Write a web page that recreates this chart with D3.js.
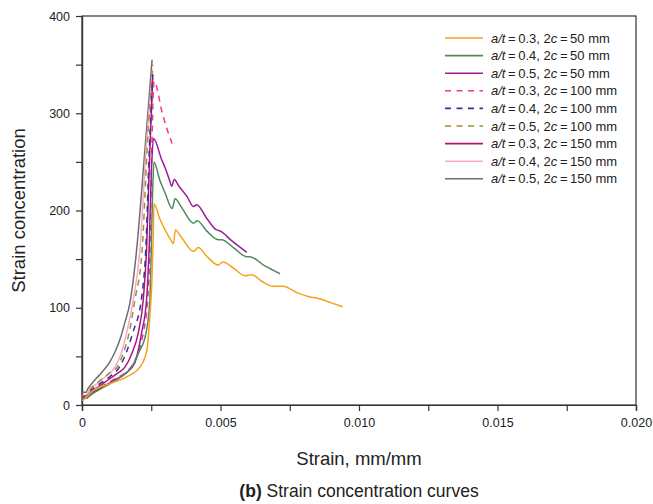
<!DOCTYPE html>
<html>
<head>
<meta charset="utf-8">
<script src="https://cdn.jsdelivr.net/npm/d3@7"></script>
<style>
  body { margin: 0; background: #fff; }
  text { font-family: "Liberation Sans", Arial, sans-serif; fill: #222; }
</style>
</head>
<body>
<div id="drawing"></div>
<script>
const width = 653;
const height = 504;
const margin = {top: 16, right: 17, bottom: 99, left: 82};
const plotW = width - margin.left - margin.right;
const plotH = height - margin.top - margin.bottom;

// strain is in units of 1e-3 (mm/mm x 1000), second value is strain concentration
const xTicks = [0, 0.005, 0.010, 0.015, 0.020];
const xTickLabels = ["0", "0.005", "0.010", "0.015", "0.020"];
const yTicks = [0, 100, 200, 300, 400];

const at03_50 = [[0,5],[0.05,5],[0.15,8],[0.41,15],[1.01,22],[1.61,29],[2.09,39],[2.34,56],[2.45,91],[2.52,125],[2.57,170],[2.6,207],[2.8,192],[3.0,180],[3.2,170],[3.3,166],[3.37,180],[3.6,172],[4.02,158],[4.2,162],[4.5,153],[4.92,144],[5.08,147],[5.5,140],[5.88,133],[6.13,134],[6.5,127],[6.9,122],[7.25,122],[7.8,115],[8.23,111],[8.47,110],[9.0,105],[9.41,101]];
const at04_50 = [[0,7],[0.15,7],[0.3,10],[0.7,17],[1.2,25],[1.5,31],[1.79,39],[2.05,54],[2.31,74],[2.45,108],[2.5,159],[2.55,220],[2.6,250],[2.8,232],[3.0,218],[3.26,202],[3.36,212],[3.6,203],[4.02,187],[4.16,189.5],[4.5,179],[4.92,170],[5.04,170],[5.5,161],[5.95,152.5],[6.06,152.5],[6.6,143],[7.15,135]];
const at05_50 = [[0,7],[0.15,7],[0.3,11],[0.7,18],[1.2,26],[1.6,33],[1.9,43],[2.15,74],[2.33,108],[2.42,159],[2.52,250],[2.58,274],[2.88,252],[3.0,244],[3.15,232],[3.24,225],[3.33,232],[3.5,225],[3.8,214],[4.02,204],[4.14,206],[4.5,192],[4.86,180],[4.98,179],[5.4,169],[5.95,157]];
const at03_100 = [[0,8],[0.15,8],[0.3,12],[0.7,19],[1.2,27],[1.6,34],[1.9,45],[2.1,60],[2.21,74],[2.37,108],[2.45,159],[2.52,262],[2.6,333],[2.9,300],[3.1,281],[3.25,269]];
const at04_100 = [[0,8],[0.15,8],[0.3,14],[0.6,21],[1.0,29],[1.35,39],[1.6,54],[1.83,74],[2.15,110],[2.3,159],[2.43,262],[2.56,340]];
const at05_100 = [[0,9],[0.15,9],[0.3,16],[0.6,24],[1.0,33],[1.27,39],[1.5,54],[1.7,74],[1.91,108],[2.17,159],[2.35,262],[2.55,350]];
const at03_150 = [[0,9],[0.15,9],[0.3,13],[0.6,19],[1.0,27],[1.3,33],[1.55,39],[1.8,53],[2.03,74],[2.21,108],[2.33,159],[2.45,262],[2.55,335]];
const at04_150 = [[0,10],[0.15,10],[0.25,15],[0.5,21],[0.8,28],[1.19,39],[1.4,52],[1.61,74],[1.85,108],[2.09,159],[2.31,262],[2.55,345]];
const at05_150 = [[0,13],[0.15,13],[0.2,16],[0.3,20],[0.5,27],[0.7,33],[1.0,44],[1.2,55],[1.4,70],[1.55,85],[1.73,105],[1.97,159],[2.27,262],[2.53,355]];

const ratios = ["0.3", "0.4", "0.5", "0.3", "0.4", "0.5", "0.3", "0.4", "0.5"];
const lengths = ["50", "50", "50", "100", "100", "100", "150", "150", "150"];
const colors = ["#f7a21e", "#4f8a5e", "#9b1c97", "#ec3a8c", "#2e32a6", "#a38f2d", "#b0166f", "#f6aacb", "#6e6e6e"];
const seriesValues = [at03_50, at04_50, at05_50, at03_100, at04_100, at05_100, at03_150, at04_150, at05_150];

const svg = d3.select("#drawing").append("svg")
  .attr("width", width)
  .attr("height", height);

const g = svg.append("g")
  .attr("transform", `translate(${margin.left},${margin.top})`);

const xScale = d3.scaleLinear().domain([0, 0.020]).range([0, plotW]);
const yScale = d3.scaleLinear().domain([0, 400]).range([plotH, 0]);

// frame
g.append("rect")
  .attr("width", plotW).attr("height", plotH)
  .attr("fill", "none").attr("stroke", "#333").attr("stroke-width", 1.2);

// minor ticks
const xMinor = d3.range(0.0025, 0.020, 0.005);
const yMinor = d3.range(50, 400, 100);

g.append("g")
  .attr("transform", `translate(0,${plotH})`)
  .call(d3.axisBottom(xScale).tickValues(xTicks).tickSize(6).tickPadding(7)
    .tickFormat((d, i) => xTickLabels[i]));
g.append("g")
  .attr("transform", `translate(0,${plotH})`)
  .call(d3.axisBottom(xScale).tickValues(xMinor).tickSize(6).tickFormat(""));

g.append("g")
  .call(d3.axisLeft(yScale).tickValues(yTicks).tickSize(6).tickPadding(6));
g.append("g")
  .call(d3.axisLeft(yScale).tickValues(yMinor).tickSize(6).tickFormat(""));

g.selectAll(".domain").attr("stroke", "#333").attr("stroke-width", 1.2);
g.selectAll(".tick line").attr("stroke", "#333").attr("stroke-width", 1.2);
g.selectAll(".tick text").style("font-size", "12.5px").attr("fill", "#222");

// curves
const line = d3.line()
  .x(d => xScale(d[0] / 1000))
  .y(d => yScale(d[1]))
  .curve(d3.curveMonotoneX);

const dashed = [false, false, false, true, true, true, false, false, false];
const drawOrder = [8, 7, 5, 6, 4, 3, 2, 1, 0];

g.selectAll(".curve")
  .data(drawOrder)
  .enter()
  .append("path")
    .attr("class", "curve")
    .attr("d", i => line(seriesValues[i]))
    .attr("fill", "none")
    .attr("stroke", i => colors[i])
    .attr("stroke-width", 1.5)
    .attr("stroke-dasharray", i => dashed[i] ? "6,5" : null);

// legend
const legend = g.append("g").attr("transform", "translate(363,22)");
const rowH = 17.6;
ratios.forEach((r, i) => {
  const row = legend.append("g").attr("transform", `translate(0,${i * rowH})`);
  row.append("line")
    .attr("x1", 0).attr("x2", 38).attr("y1", 0).attr("y2", 0)
    .attr("stroke", colors[i]).attr("stroke-width", 1.6)
    .attr("stroke-dasharray", dashed[i] ? "6,5.5" : null);
  const t = row.append("text").attr("x", 46).attr("y", 4.5).style("font-size", "13px");
  t.append("tspan").style("font-style", "italic").text("a/t");
  t.append("tspan").text("\u2009=\u20090.3".replace("0.3", r) + ", 2");
  t.append("tspan").style("font-style", "italic").text("c");
  t.append("tspan").text("\u2009=\u2009" + lengths[i] + " mm");
});

// axis titles
svg.append("text")
  .attr("transform", `translate(25,${margin.top + plotH / 2}) rotate(-90)`)
  .attr("text-anchor", "middle")
  .style("font-size", "18.5px")
  .text("Strain concentration");

svg.append("text")
  .attr("x", margin.left + plotW / 2).attr("y", 465)
  .attr("text-anchor", "middle")
  .style("font-size", "18.5px")
  .text("Strain, mm/mm");

const cap = svg.append("text")
  .attr("x", margin.left + plotW / 2).attr("y", 497)
  .attr("text-anchor", "middle")
  .style("font-size", "17.5px");
cap.append("tspan").style("font-weight", "bold").text("(b)");
cap.append("tspan").text(" Strain concentration curves");
</script>
</body>
</html>
